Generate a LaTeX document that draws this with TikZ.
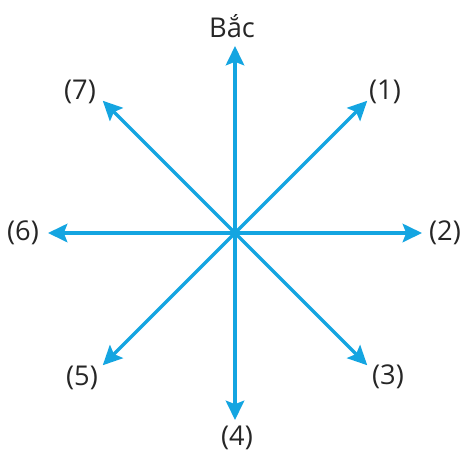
\documentclass[tikz,border=0pt]{standalone}
\usepackage{fontspec}
\setmainfont{Open Sans}
\usepackage{xcolor}
\usetikzlibrary{arrows.meta, calc}
\definecolor{huongxanh}{RGB}{20,165,225}

\begin{document}
\begin{tikzpicture}[line cap=round, line join=round,
	muiten/.style={huongxanh, line width=1.9pt, -{Stealth[length=11pt, width=10.5pt, inset=2pt]}},
	nhan/.style={text=black!85, font=\fontsize{15.5}{18}\selectfont, inner sep=0pt}]
				\useasboundingbox (0,0) rectangle (9.36,9.02);
				\coordinate (O) at (4.70,4.36);
				\coordinate (N) at ($(O)+(0,3.74)$);
				\coordinate (E) at ($(O)+(3.74,0)$);
				\coordinate (S) at ($(O)+(0,-3.74)$);
				\coordinate (W) at ($(O)+(-3.74,0)$);
				\coordinate (NE) at ($(O)+(2.645,2.645)$);
				\coordinate (SE) at ($(O)+(2.645,-2.645)$);
				\coordinate (SW) at ($(O)+(-2.645,-2.645)$);
				\coordinate (NW) at ($(O)+(-2.645,2.645)$);
				
				\draw[muiten] (O)--(N);
				\draw[muiten] (O)--(NE);
				\draw[muiten] (O)--(E);
				\draw[muiten] (O)--(SE);
				\draw[muiten] (O)--(S);
				\draw[muiten] (O)--(SW);
				\draw[muiten] (O)--(W);
				\draw[muiten] (O)--(NW);
				
				\node[nhan] (bac) at (4.64,8.50) {Bắc};
				\node[nhan] (h1) at (7.70,7.18) {(1)};
				\node[nhan] (h2) at (8.90,4.36) {(2)};
				\node[nhan] (h3) at (7.76,1.48) {(3)};
				\node[nhan] (h4) at (4.74,0.26) {(4)};
				\node[nhan] (h5) at (1.64,1.46) {(5)};
				\node[nhan] (h6) at (0.46,4.36) {(6)};
				\node[nhan] (h7) at (1.60,7.18) {(7)};
			\end{tikzpicture}
\end{document}
